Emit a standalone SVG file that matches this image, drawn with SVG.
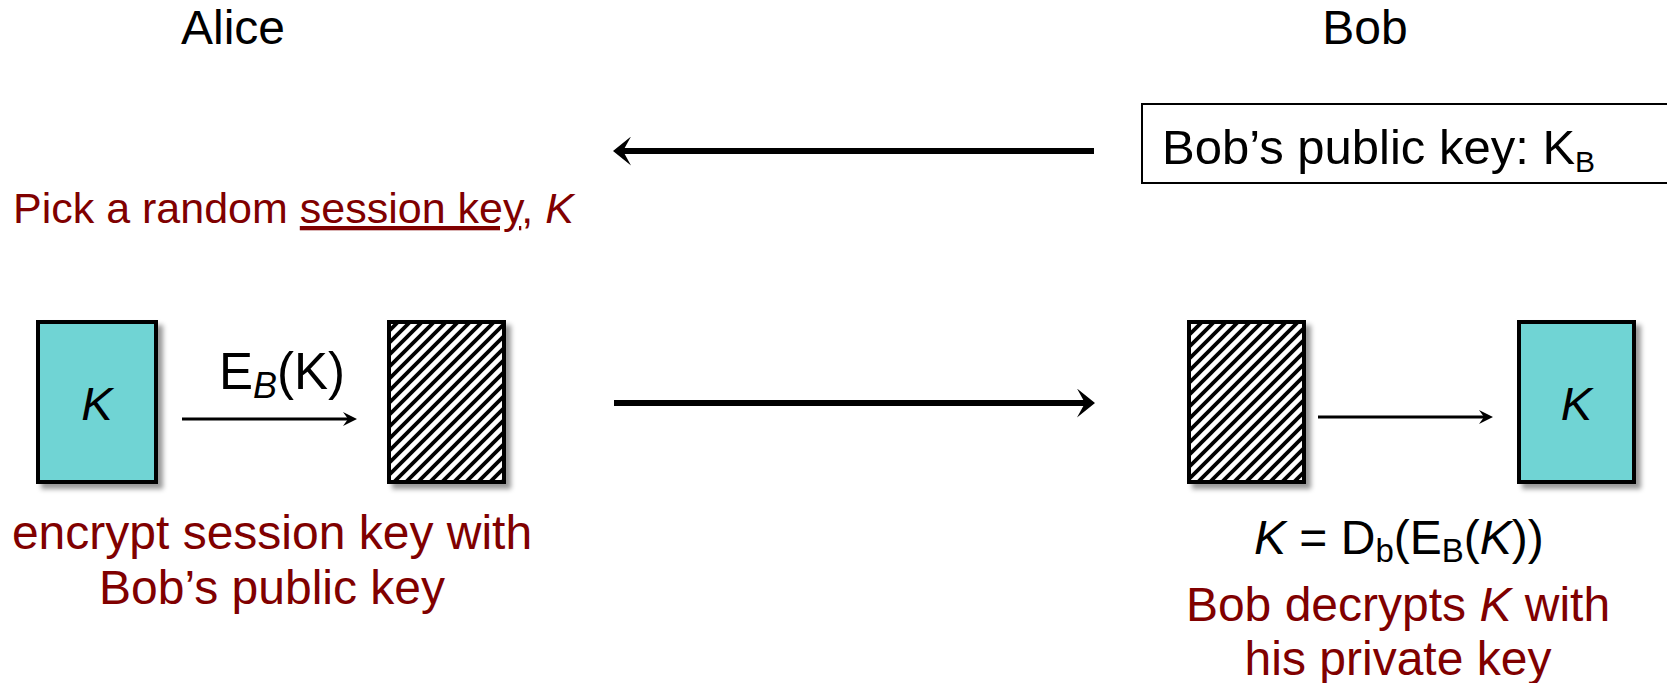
<svg xmlns="http://www.w3.org/2000/svg" width="1667" height="683" viewBox="0 0 1667 683">
<style>
text{font-family:"Liberation Sans",Arial,sans-serif;fill:#000}
.red{fill:#800000}
.lbl{font-size:48px}
.note{font-size:48px}
.ul{text-decoration:underline;text-decoration-skip-ink:none}
.key{fill:#70D4D4;stroke:#000;stroke-width:4}
.enc{fill:url(#hatch);stroke:#000;stroke-width:4}
.big{stroke:#000;stroke-width:6;fill:none}
.small{stroke:#000;stroke-width:3;fill:none}
</style>
<defs>
<filter id="shadow" x="-20%" y="-20%" width="150%" height="150%">
<feGaussianBlur in="SourceAlpha" stdDeviation="2.5"/>
<feOffset dx="5" dy="5" result="b"/>
<feFlood flood-color="#000" flood-opacity="0.4"/>
<feComposite in2="b" operator="in"/>
<feMerge><feMergeNode/><feMergeNode in="SourceGraphic"/></feMerge>
</filter>
<pattern id="hatch" patternUnits="userSpaceOnUse" width="12" height="12">
<rect width="12" height="12" fill="#fff"/>
<path d="M-3,3 L3,-3 M0,12 L12,0 M9,15 L15,9" stroke="#000" stroke-width="3.8"/>
</pattern>
<marker id="bigHead" markerUnits="userSpaceOnUse" viewBox="0 0 18 29" markerWidth="18" markerHeight="29" refX="8" refY="14.5" orient="auto">
<path d="M0,0 L18,14.5 L0,29 L8,14.5 Z" fill="#000"/>
</marker>
<marker id="smallHead" markerUnits="userSpaceOnUse" viewBox="0 0 14 14" markerWidth="14" markerHeight="14" refX="5" refY="7" orient="auto">
<path d="M0,0 L14,7 L0,14 L5,7 Z" fill="#000"/>
</marker>
</defs>

<g id="alice-label"><text class="lbl" x="233" y="44" text-anchor="middle">Alice</text></g>
<g id="bob-label"><text class="lbl" x="1365" y="44" text-anchor="middle">Bob</text></g>

<g id="bob-public-key">
<rect x="1142" y="104" width="540" height="79" fill="#fff" stroke="#000" stroke-width="2"/>
<text x="1162" y="164" font-size="49">Bob’s public key: K<tspan font-size="30" dy="8">B</tspan></text>
</g>

<g id="pick-text">
<text class="red" x="13" y="223" font-size="43">Pick a random <tspan class="ul">session key</tspan>, <tspan font-style="italic">K</tspan></text>
</g>

<g id="alice-key">
<rect class="key" x="38" y="322" width="118" height="160" filter="url(#shadow)"/>
<text x="97" y="420" font-size="47" font-style="italic" text-anchor="middle">K</text>
</g>

<g id="alice-encrypted">
<rect class="enc" x="389" y="322" width="115" height="160" filter="url(#shadow)"/>
</g>

<g id="bob-encrypted">
<rect class="enc" x="1189" y="322" width="115" height="160" filter="url(#shadow)"/>
</g>

<g id="bob-key">
<rect class="key" x="1519" y="322" width="115" height="160" filter="url(#shadow)"/>
<text x="1576.5" y="420" font-size="47" font-style="italic" text-anchor="middle">K</text>
</g>

<g id="connectors">
<line class="big" x1="1094" y1="151" x2="623" y2="151" marker-end="url(#bigHead)"/>
<line class="big" x1="614" y1="403" x2="1085" y2="403" marker-end="url(#bigHead)"/>
<line class="small" x1="182" y1="419" x2="348" y2="419" marker-end="url(#smallHead)"/>
<line class="small" x1="1318" y1="417" x2="1484" y2="417" marker-end="url(#smallHead)"/>
</g>

<g id="eb-label">
<text x="219" y="389" font-size="51">E<tspan font-size="36" font-style="italic" dy="9">B</tspan><tspan dy="-9">(K)</tspan></text>
</g>

<g id="alice-caption">
<text class="red note" x="272" y="549" text-anchor="middle">encrypt session key with</text>
<text class="red note" x="272" y="604" text-anchor="middle">Bob’s public key</text>
</g>

<g id="bob-formula">
<text x="1254" y="554" font-size="48"><tspan font-style="italic">K</tspan> = D<tspan font-size="33" dy="8">b</tspan><tspan dy="-8">(E</tspan><tspan font-size="33" dy="8">B</tspan><tspan dy="-8">(</tspan><tspan font-style="italic">K</tspan>))</text>
</g>

<g id="bob-caption">
<text class="red note" x="1398" y="621" text-anchor="middle">Bob decrypts <tspan font-style="italic">K</tspan> with</text>
<text class="red note" x="1398" y="675" text-anchor="middle">his private key</text>
</g>
</svg>
